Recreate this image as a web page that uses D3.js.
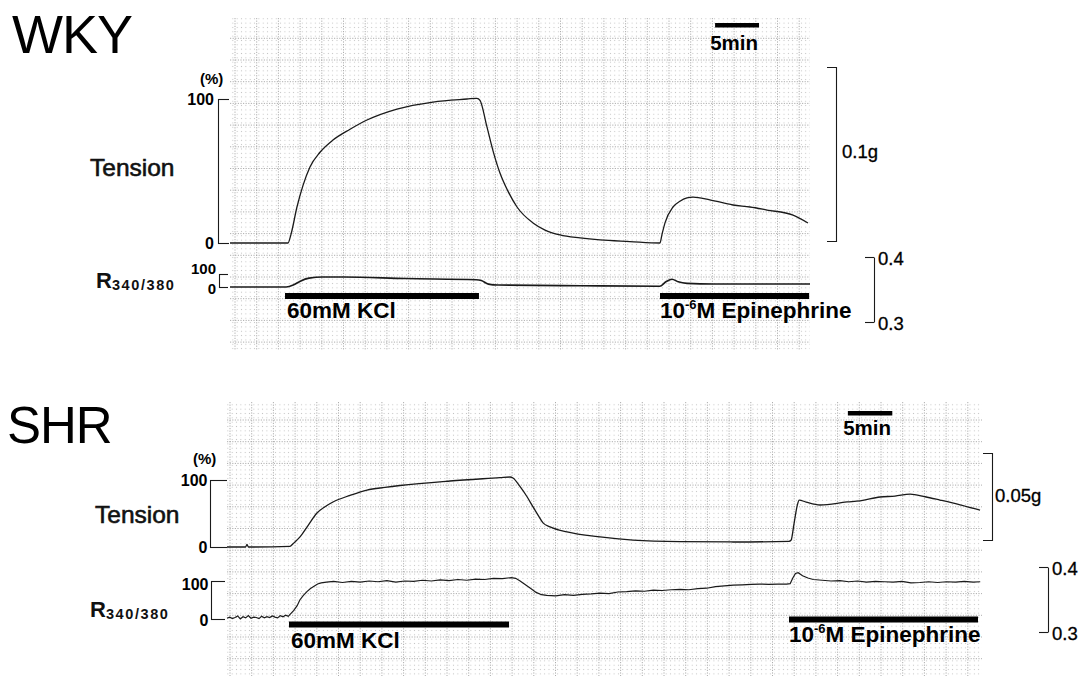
<!DOCTYPE html>
<html><head><meta charset="utf-8">
<script src="https://cdn.jsdelivr.net/npm/d3@7"></script>
<style>
body{margin:0;background:#fff;}
svg{display:block;font-family:"Liberation Sans",Arial,Helvetica,sans-serif;}
</style></head><body>
<svg id="c" width="1081" height="676"></svg>
<script>
// ================= DATA =================
const panelNames = ["WKY", "SHR"];
const tensionTicks = [0, 100];
const ratioTicks = [0, 100];
const calRatioTicks = [0.3, 0.4];
const calTensionLabels = ["0.1g", "0.05g"];
const kclLabel = "60mM KCl";
const epiLabelParts = ["10", "-6", "M Epinephrine"];
const scaleBarMinutes = 5;
const scaleBarLabel = "5min";

// WKY tension (% of KCl max) vs time (min)
const wkyTensionT = [0, 6.6, 6.94, 7.62, 8.31, 9.1, 10.24, 11.72, 13.66, 15.59, 19.0, 23.1, 26.97, 28.1, 28.45, 29.24, 29.93, 30.72, 31.63, 32.66, 34.48, 35.85, 37.55, 39.83, 42.1, 45.5, 48.93, 49.16, 49.5, 50.41, 51.2, 52.0, 52.7, 54.6, 57.24, 59.17, 61.1, 64.07, 65.77];
const wkyTensionV = [0, 0, 6, 25, 40, 52.8, 63, 71.5, 79, 85.4, 93, 97.9, 100, 100.5, 99, 80.6, 64, 48.6, 36, 25, 13.9, 9, 5.6, 3.5, 2.1, 1, 0, 6, 14, 25, 29, 31.3, 31.9, 30, 26.4, 25, 22.9, 19.4, 13.9];
// WKY R340/380 (%)
const wkyRatioT = [0, 6.4, 7.2, 8.0, 9.0, 10.5, 13, 20, 28.0, 28.6, 29.4, 30.5, 40, 48.9, 49.6, 50.3, 51.0, 52, 55, 66];
const wkyRatioV = [0, 0, 15, 45, 68, 77, 77, 65, 56, 50, 22, 15, 10, 6, 40, 60, 40, 28, 23, 23];

// SHR tension (%)
const shrTensionT = [0, 2.1, 2.25, 2.4, 7.09, 7.43, 8.22, 9.12, 10.13, 11.03, 11.93, 13.85, 15.76, 17.79, 19.48, 25.1, 30.74, 31.86, 32.2, 33.0, 33.78, 34.45, 35.0, 35.58, 36.37, 38.28, 42.0, 45.71, 51.0, 56.97, 63.27, 63.5, 63.84, 64.2, 64.42, 65.2, 66.77, 69.8, 71.27, 73.52, 75.2, 76.9, 78.6, 80.28, 82.53, 84.78];
const shrTensionV = [0, 0, 4, 0, 1, 5, 15, 32, 50.7, 60, 67.2, 77, 85, 89, 91.8, 98.5, 103.5, 104.5, 103, 90, 75, 60, 48, 36, 30, 22.4, 15, 10.4, 8, 7.5, 8.5, 10, 35, 62, 70, 67, 62.7, 67.2, 69, 74.6, 76, 79, 75, 70, 63, 55.2];
// SHR R340/380 (%)
const shrRatioT = [0,0.3,0.6,0.9,1.2,1.5,1.8,2.1,2.4,2.7,3.0,3.3,3.6,3.9,4.2,4.5,4.8,5.1,5.4,5.7,6.0,6.3,6.6,6.9,7.1,7.5,7.9,8.2,8.6,9.0,9.4,9.8,10.2,10.6,11.2,12,13,14,15,16,17,18,19,20,21,22,23,24,25,26,27,28,29,30,31,32,32.5,33.0,33.6,34.2,34.8,35.4,36,37,38,39,40,41,42,43,44,45,46,47,48,49,50,51,52,53,54,55,56,57,58,59,60,61,62,63,63.4,63.7,64.0,64.3,64.8,65.4,66,67,68,69,70,71,72,73,74,75,76,77,78,79,80,81,82,83,84,84.8];
const shrRatioV = [2,5,1,4,8,0,6,3,9,2,5,4,1,7,3,6,4,8,5,3,9,6,10,7,12,22,35,50,62,72,80,86,92,95,97,99,96,99,97,100,98,101,97,100,99,102,100,103,101,104,102,105,104,107,106,109,107,100,90,80,70,64,62,61,64,62,65,66,68,67,71,72,74,73,76,75,77,78,77,80,81,85,87,89,90,91,92,91,92,92,93,108,120,122,114,108,104,102,100,101,98,100,97,99,98,97,99,95,96,98,96,98,97,99,97,98];

// stimulus periods (min)
const wkyKCl = [6.26, 28.33];
const wkyEpi = [48.93, 65.9];
const shrKCl = [6.98, 31.75];
const shrEpi = [63.27, 84.55];
const wkyScaleBarStart = 55.2;
const shrScaleBarStart = 69.9;

// ================= LAYOUT =================
const ink = "#1a1a1a";
const panels = [
  {name: panelNames[0], xDom: [0, 66], xR: [230, 810], yT: [243, 99], yR: [287, 274],
   grid: [230, 18, 810, 350], ox: 235, oy: 16.6, cell: 21.7,
   tAxisX: 218, tTick: 11, rAxisX: 219, rTick: 9, padT: 4, padR: 3,
   rDy: {0: "0.42em", 100: "-0.02em"}, rFont: 15,
   calT: {x: 836, y: [241, 67], lab: calTensionLabels[0], lx: 842, ly: 158},
   calR: {x: 874, y: [322, 257]},
   kcl: wkyKCl, epi: wkyEpi, kclBarY: 293, epiBarY: 293, kclLabY: 318, epiLabY: 318,
   sbStart: wkyScaleBarStart, sbY: 23, sbLabY: 50,
   title: {x: 12, y: 53, s: 54}, tension: {x: 90, y: 176}, ratio: {x: 96, y: 288}, pct: {x: 200, y: 84},
   tensionT: wkyTensionT, tensionV: wkyTensionV, ratioT: wkyRatioT, ratioV: wkyRatioV, noisy: false},
  {name: panelNames[1], xDom: [0, 85], xR: [227, 982], yT: [547, 480], yR: [619, 581],
   grid: [227, 402, 982, 676], ox: 230, oy: 398.3, cell: 21.7,
   tAxisX: 210, tTick: 17, rAxisX: 211, rTick: 14, padT: 2.5, padR: 2.5,
   rDy: {0: "0.4em", 100: "0.5em"}, rFont: 16,
   calT: {x: 992, y: [540, 453], lab: calTensionLabels[1], lx: 995, ly: 502},
   calR: {x: 1048, y: [632, 567]},
   kcl: shrKCl, epi: shrEpi, kclBarY: 621.5, epiBarY: 616.5, kclLabY: 648, epiLabY: 642,
   sbStart: shrScaleBarStart, sbY: 411, sbLabY: 435,
   title: {x: 7, y: 443, s: 51}, tension: {x: 95, y: 523}, ratio: {x: 90, y: 617}, pct: {x: 193, y: 464},
   tensionT: shrTensionT, tensionV: shrTensionV, ratioT: shrRatioT, ratioV: shrRatioV, noisy: true}
];

const svg = d3.select("#c");
const defs = svg.append("defs");

panels.forEach(p => {
  const g = svg.append("g");
  const x = d3.scaleLinear().domain(p.xDom).range(p.xR);
  const yT = d3.scaleLinear().domain([0, 100]).range(p.yT);
  const yR = d3.scaleLinear().domain([0, 100]).range(p.yR);

  // ---- chart-recorder grid paper ----
  const [gx0, gy0, gx1, gy1] = p.grid;
  const sub = p.cell / 5;
  const pid = "dots" + p.name;
  const pat = defs.append("pattern").attr("id", pid).attr("patternUnits", "userSpaceOnUse")
    .attr("x", p.ox).attr("y", p.oy).attr("width", sub).attr("height", sub);
  pat.append("rect").attr("x", sub / 2 - 0.5).attr("y", sub / 2 - 0.5).attr("width", 1).attr("height", 1).attr("fill", "#c2c2c2");
  g.append("rect").attr("x", gx0).attr("y", gy0).attr("width", gx1 - gx0).attr("height", gy1 - gy0)
    .attr("fill", `url(#${pid})`);
  const vStart = p.ox - p.cell * Math.ceil((p.ox - gx0) / p.cell);
  const vx = d3.range(vStart, gx1, p.cell).filter(v => v >= gx0);
  const hStart = p.oy - p.cell * Math.ceil((p.oy - gy0) / p.cell);
  const hy = d3.range(hStart, gy1, p.cell).filter(v => v >= gy0);
  g.append("g").selectAll("line").data(vx).join("line")
    .attr("x1", d => d).attr("x2", d => d).attr("y1", gy0).attr("y2", gy1)
    .attr("stroke", "#999").attr("stroke-width", 0.8).attr("stroke-dasharray", "1.2,1.4");
  g.append("g").selectAll("line").data(hy).join("line")
    .attr("y1", d => d).attr("y2", d => d).attr("x1", gx0).attr("x2", gx1)
    .attr("stroke", "#999").attr("stroke-width", 0.8).attr("stroke-dasharray", "1.2,1.4");

  // ---- left bracket axes ----
  const tAx = g.append("g").attr("transform", `translate(${p.tAxisX},0)`)
    .call(d3.axisLeft(yT).tickValues(tensionTicks).tickSizeInner(-p.tTick).tickSizeOuter(-p.tTick).tickPadding(p.padT).tickFormat(d3.format("d")));
  const rAx = g.append("g").attr("transform", `translate(${p.rAxisX},0)`)
    .call(d3.axisLeft(yR).tickValues(ratioTicks).tickSizeInner(-p.rTick).tickSizeOuter(-p.rTick).tickPadding(p.padR).tickFormat(d3.format("d")));
  [tAx, rAx].forEach(a => {
    a.attr("font-family", null).attr("font-size", null);
    a.selectAll("path,line").attr("stroke", ink).attr("stroke-width", 1.1);
    a.selectAll("text").attr("fill", "#000").attr("font-size", 16).attr("font-weight", "bold");
  });
  rAx.selectAll("text").attr("font-size", p.rFont).attr("dy", d => p.rDy[d]);

  // ---- right calibration brackets ----
  const gScale = d3.scaleLinear().domain([0, 1]).range(p.calT.y);
  const cT = g.append("g").attr("transform", `translate(${p.calT.x},0)`)
    .call(d3.axisRight(gScale).tickValues([]).tickSizeOuter(-9));
  cT.selectAll("path").attr("stroke", ink).attr("stroke-width", 1.1);
  g.append("text").attr("x", p.calT.lx).attr("y", p.calT.ly).attr("font-size", 18.5).attr("fill", "#000")
    .attr("stroke", "#000").attr("stroke-width", 0.3).text(p.calT.lab);

  const rScale = d3.scaleLinear().domain(calRatioTicks).range(p.calR.y);
  const cR = g.append("g").attr("transform", `translate(${p.calR.x},0)`)
    .call(d3.axisRight(rScale).tickValues(calRatioTicks).tickSizeInner(-9).tickSizeOuter(0).tickPadding(4).tickFormat(d3.format(".1f")));
  cR.attr("font-family", null).attr("font-size", null);
  cR.selectAll("path,line").attr("stroke", ink).attr("stroke-width", 1.1);
  cR.selectAll("text").attr("fill", "#000").attr("font-size", 18.5).attr("dy", "0.38em")
    .attr("stroke", "#000").attr("stroke-width", 0.3);

  // ---- traces ----
  const lineT = d3.line().x(d => x(d[0])).y(d => yT(d[1])).curve(d3.curveMonotoneX);
  const lineR = d3.line().x(d => x(d[0])).y(d => yR(d[1])).curve(p.noisy ? d3.curveLinear : d3.curveMonotoneX);
  g.append("path").datum(p.tensionT.map((t, i) => [t, p.tensionV[i]]))
    .attr("d", lineT).attr("fill", "none").attr("stroke", ink).attr("stroke-width", 1.3);
  g.append("path").datum(p.ratioT.map((t, i) => [t, p.ratioV[i]]))
    .attr("d", lineR).attr("fill", "none").attr("stroke", ink).attr("stroke-width", p.noisy ? 1.2 : 1.6);

  // ---- stimulus bars ----
  g.append("rect").attr("x", x(p.kcl[0])).attr("width", x(p.kcl[1]) - x(p.kcl[0]))
    .attr("y", p.kclBarY).attr("height", 6).attr("fill", "#000");
  g.append("rect").attr("x", x(p.epi[0])).attr("width", x(p.epi[1]) - x(p.epi[0]))
    .attr("y", p.epiBarY).attr("height", 6).attr("fill", "#000");
  g.append("text").attr("x", x(p.kcl[0]) + 2).attr("y", p.kclLabY)
    .attr("font-size", 22.5).attr("font-weight", "bold").attr("fill", "#000").text(kclLabel);
  const et = g.append("text").attr("x", x(p.epi[0])).attr("y", p.epiLabY)
    .attr("font-size", 22.5).attr("font-weight", "bold").attr("fill", "#000");
  et.append("tspan").text(epiLabelParts[0]);
  et.append("tspan").attr("font-size", 13).attr("dy", -9).text(epiLabelParts[1]);
  et.append("tspan").attr("dy", 9).text(epiLabelParts[2]);

  // ---- time scale bar ----
  g.append("rect").attr("x", x(p.sbStart)).attr("width", x(p.sbStart + scaleBarMinutes) - x(p.sbStart))
    .attr("y", p.sbY).attr("height", 4.5).attr("fill", "#000");
  g.append("text").attr("x", (x(p.sbStart) + x(p.sbStart + scaleBarMinutes)) / 2 - 3).attr("y", p.sbLabY)
    .attr("text-anchor", "middle").attr("font-size", 20.5).attr("font-weight", "bold").attr("fill", "#000").text(scaleBarLabel);

  // ---- labels ----
  g.append("text").attr("x", p.title.x).attr("y", p.title.y).attr("font-size", p.title.s)
    .attr("fill", "#000").attr("letter-spacing", -1).text(p.name);
  g.append("text").attr("x", p.tension.x).attr("y", p.tension.y).attr("font-size", 24.5)
    .attr("fill", "#111").attr("stroke", "#111").attr("stroke-width", 0.6).text("Tension");
  const rt = g.append("text").attr("x", p.ratio.x).attr("y", p.ratio.y).attr("font-size", 22)
    .attr("font-weight", "bold").attr("fill", "#111");
  rt.append("tspan").text("R");
  rt.append("tspan").attr("font-size", 14.5).attr("dy", 2).attr("letter-spacing", 1.6).text("340/380");
  g.append("text").attr("x", p.pct.x).attr("y", p.pct.y).attr("font-size", 15)
    .attr("font-weight", "bold").attr("fill", "#000").text("(%)");
});
</script>
</body></html>
